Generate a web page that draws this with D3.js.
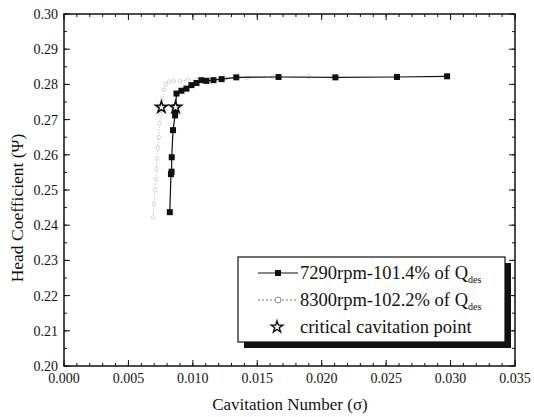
<!DOCTYPE html>
<html><head><meta charset="utf-8">
<script src="https://cdn.jsdelivr.net/npm/d3@7"></script>
<style>body{margin:0;background:#fff}svg{display:block}text{font-family:"Liberation Serif","Times New Roman",serif;fill:#111}</style>
</head><body><svg id="c" width="534" height="417"></svg>
<script>
// Series 7290rpm-101.4% of Qdes (sigma, psi)
const s7290Sigma = [0.00821,0.00830,0.00835,0.00836,0.00846,0.00862,0.00864,0.00866,0.00873,0.00911,0.00950,0.00989,0.01028,0.01066,0.01105,0.01160,0.01223,0.01337,0.01665,0.02106,0.02584,0.02973];
const s7290Psi   = [0.2437,0.2545,0.2552,0.2593,0.2670,0.2712,0.2722,0.2735,0.2774,0.2782,0.2788,0.2798,0.2804,0.2812,0.2810,0.2812,0.2815,0.2820,0.2821,0.2820,0.2821,0.2823];
// Series 8300rpm-102.2% of Qdes
const s8300Sigma = [0.00690,0.00700,0.00705,0.00712,0.00718,0.00722,0.00728,0.00735,0.00742,0.00750,0.00756,0.00765,0.00775,0.00790,0.00815,0.00850,0.00900,0.00960,0.01030,0.01120,0.01250,0.01420,0.01620,0.01900];
const s8300Psi   = [0.2422,0.2460,0.2500,0.2530,0.2560,0.2590,0.2620,0.2650,0.2690,0.2715,0.2735,0.2760,0.2785,0.2800,0.2808,0.2810,0.2810,0.2812,0.2813,0.2815,0.2817,0.2819,0.2821,0.2822];
// Critical cavitation points
const critSigma = [0.00866,0.00756];
const critPsi   = [0.2735,0.2735];
const xTicks = [0,0.005,0.010,0.015,0.020,0.025,0.030,0.035];
const yTicks = [0.20,0.21,0.22,0.23,0.24,0.25,0.26,0.27,0.28,0.29,0.30];
const legendLabels = ["7290rpm-101.4% of Q","8300rpm-102.2% of Q","critical cavitation point"];

const svg = d3.select("#c");
const L=64, R=515, T=14, B=366;
const x = d3.scaleLinear().domain([0,0.035]).range([L,R]);
const y = d3.scaleLinear().domain([0.20,0.30]).range([B,T]);

// minor ticks
const xMinor = d3.range(0,0.0351,0.001);
const yMinor = d3.range(0.20,0.3001,0.005);
const g = svg.append("g");
function ticks(vals, len, axis){
  vals.forEach(v=>{
    if(axis==="x"){
      g.append("line").attr("x1",x(v)).attr("x2",x(v)).attr("y1",B).attr("y2",B-len).attr("stroke","#111");
      g.append("line").attr("x1",x(v)).attr("x2",x(v)).attr("y1",T).attr("y2",T+len).attr("stroke","#111");
    } else {
      g.append("line").attr("y1",y(v)).attr("y2",y(v)).attr("x1",L).attr("x2",L+len).attr("stroke","#111");
      g.append("line").attr("y1",y(v)).attr("y2",y(v)).attr("x1",R).attr("x2",R-len).attr("stroke","#111");
    }
  });
}
ticks(xMinor,3,"x"); ticks(xTicks,6,"x");
ticks(yMinor,3,"y"); ticks(yTicks,6,"y");

svg.append("rect").attr("x",L).attr("y",T).attr("width",R-L).attr("height",B-T)
  .attr("fill","none").attr("stroke","#111").attr("stroke-width",1.5);

// tick labels
svg.append("g").selectAll("text").data(xTicks).join("text")
  .attr("x",d=>x(d)).attr("y",B+17).attr("text-anchor","middle").attr("font-size",14)
  .text(d=>d3.format(".3f")(d));
svg.append("g").selectAll("text").data(yTicks).join("text")
  .attr("x",L-6).attr("y",d=>y(d)+5).attr("text-anchor","end").attr("font-size",14)
  .text(d=>d3.format(".2f")(d));

// axis titles
svg.append("text").attr("x",290).attr("y",410).attr("text-anchor","middle").attr("font-size",17)
  .text("Cavitation Number (σ)");
svg.append("text").attr("transform",`translate(23,208) rotate(-90)`).attr("text-anchor","middle").attr("font-size",17.5)
  .text("Head Coefficient (Ψ)");

const line = d3.line().x(d=>x(d[0])).y(d=>y(d[1]));
const d8300 = s8300Sigma.map((s,i)=>[s,s8300Psi[i]]);
const d7290 = s7290Sigma.map((s,i)=>[s,s7290Psi[i]]);

svg.append("path").datum(d8300).attr("d",line).attr("fill","none").attr("stroke","#aaa")
  .attr("stroke-width",1).attr("stroke-dasharray","1,2");
svg.append("g").selectAll("circle").data(d8300).join("circle")
  .attr("cx",d=>x(d[0])).attr("cy",d=>y(d[1])).attr("r",1.8)
  .attr("fill","#fff").attr("stroke","#c4c4c4").attr("stroke-width",0.7);

svg.append("path").datum(d7290).attr("d",line).attr("fill","none").attr("stroke","#111").attr("stroke-width",1.2);
svg.append("g").selectAll("rect").data(d7290).join("rect")
  .attr("x",d=>x(d[0])-3).attr("y",d=>y(d[1])-3).attr("width",6).attr("height",6).attr("fill","#111");

const star = d3.symbol().type(d3.symbolStar).size(42);
svg.append("g").selectAll("path").data(critSigma.map((s,i)=>[s,critPsi[i]])).join("path")
  .attr("d",star).attr("transform",d=>`translate(${x(d[0])},${y(d[1])})`)
  .attr("fill","#fff").attr("stroke","#111").attr("stroke-width",1.6);

// legend
const lx=238, ly=257, lw=267, lh=85;
svg.append("rect").attr("x",lx+6).attr("y",ly+6).attr("width",lw).attr("height",lh).attr("fill","#111");
svg.append("rect").attr("x",lx).attr("y",ly).attr("width",lw).attr("height",lh).attr("fill","#fff").attr("stroke","#111").attr("stroke-width",1.2);
const rows=[273,300,327];
svg.append("line").attr("x1",258).attr("x2",298).attr("y1",rows[0]).attr("y2",rows[0]).attr("stroke","#111").attr("stroke-width",1.2);
svg.append("rect").attr("x",275).attr("y",rows[0]-3).attr("width",6).attr("height",6).attr("fill","#111");
svg.append("line").attr("x1",258).attr("x2",298).attr("y1",rows[1]).attr("y2",rows[1]).attr("stroke","#777").attr("stroke-dasharray","2,2");
svg.append("circle").attr("cx",278).attr("cy",rows[1]).attr("r",3).attr("fill","#fff").attr("stroke","#888");
svg.append("path").attr("d",star).attr("transform",`translate(277,${rows[2]})`).attr("fill","#fff").attr("stroke","#111").attr("stroke-width",1.4);
legendLabels.forEach((t,i)=>{
  const tx = svg.append("text").attr("x",300).attr("y",rows[i]+6).attr("font-size",18.5);
  tx.append("tspan").text(t);
  if(i<2) tx.append("tspan").attr("font-size",10).attr("dy",4).text("des");
});
</script></body></html>
